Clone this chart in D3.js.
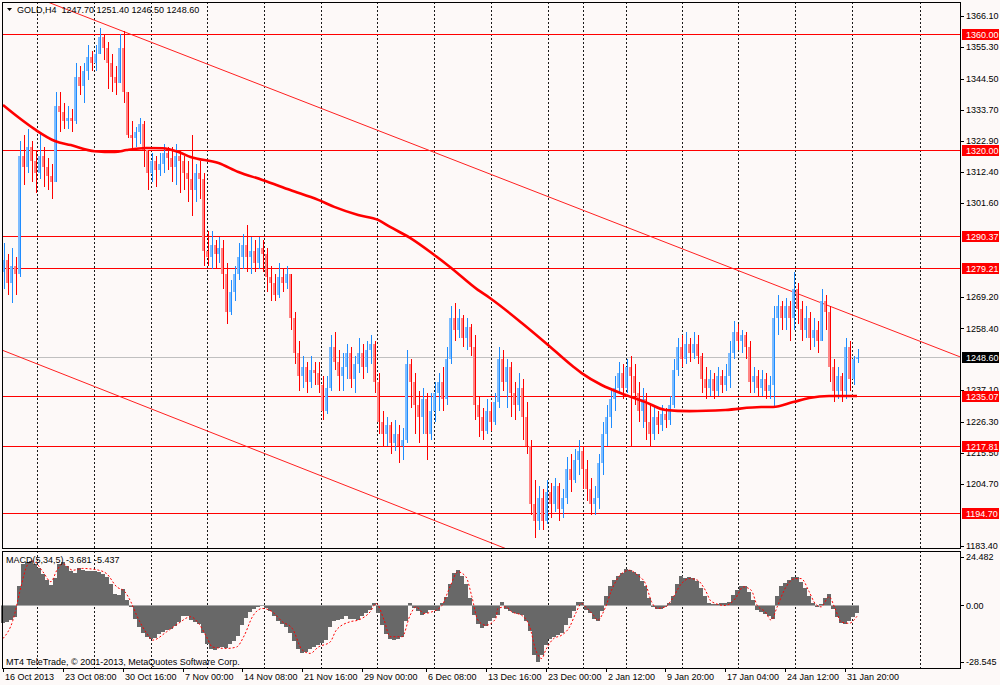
<!DOCTYPE html>
<html>
<head>
<meta charset="utf-8">
<script src="https://cdn.jsdelivr.net/npm/d3@7"></script>
<style>
  body { margin: 0; background: #fdf9f8; }
  svg { display: block; font-family: "Liberation Sans", Arial, sans-serif; font-size: 9px; }
</style>
</head>
<body>
<div id="container"></div>
<script>
// GOLD,H4 bars, one every 8 hours or so
const firstOpen = 1278;
const closes = [
  1282,1274,1280,1277,1318,1314,1321,1316,1312,1318,
  1314,1311,1309,1335,1333,1330,1331,1330,1345,1342,
  1347,1352,1350,1353,1359,1355,1350,1345,1343,1355,
  1340,1325,1324,1326,1329,1320,1312,1316,1313,1315,
  1319,1317,1314,1318,1316,1312,1310,1306,1312,1310,
  1285,1283,1287,1284,1286,1277,1264,1271,1277,1283,
  1287,1283,1285,1281,1286,1284,1276,1274,1270,1276,
  1274,1277,1262,1250,1242,1245,1240,1244,1243,1239,
  1230,1238,1252,1247,1242,1245,1250,1241,1246,1250,
  1245,1251,1253,1240,1226,1222,1225,1219,1222,1218,
  1220,1246,1240,1232,1228,1234,1222,1230,1236,1240,
  1234,1248,1262,1258,1262,1255,1259,1252,1232,1228,
  1223,1230,1226,1233,1248,1240,1245,1236,1232,1238,
  1228,1218,1198,1192,1200,1192,1202,1198,1204,1196,
  1200,1210,1206,1213,1216,1210,1203,1198,1200,1212,
  1222,1228,1234,1238,1243,1238,1245,1242,1236,1230,
  1234,1226,1222,1228,1225,1229,1227,1232,1244,1252,
  1248,1253,1250,1253,1249,1241,1238,1241,1237,1242,
  1239,1242,1250,1257,1254,1256,1252,1240,1242,1238,
  1241,1237,1239,1262,1266,1262,1266,1262,1272,1265,
  1258,1262,1255,1258,1254,1268,1264,1245,1237,1242,
  1237,1252,1241,1247.7,1248.6
];
const highs = [
  1288,1284,1286,1283,1323,1325,1327,1323,1320,1326,
  1321,1317,1315,1340,1340,1336,1335,1334,1350,1349,
  1350,1356,1354,1356,1362,1360,1357,1353,1349,1360,
  1361,1340,1330,1328,1331,1330,1320,1319,1318,1319,
  1322,1321,1321,1322,1320,1318,1316,1325,1315,1316,
  1312,1292,1292,1289,1290,1289,1281,1275,1280,1288,
  1291,1294,1290,1289,1290,1289,1286,1280,1277,1281,
  1279,1280,1277,1264,1254,1249,1247,1249,1247,1247,
  1242,1242,1256,1257,1251,1250,1253,1252,1249,1255,
  1253,1254,1256,1254,1243,1230,1228,1226,1227,1225,
  1224,1251,1248,1243,1237,1238,1236,1236,1240,1243,
  1245,1252,1266,1267,1265,1263,1262,1260,1256,1235,
  1231,1234,1233,1236,1252,1251,1248,1247,1240,1243,
  1241,1233,1220,1206,1204,1203,1206,1205,1207,1205,
  1203,1214,1215,1217,1220,1218,1213,1207,1204,1215,
  1226,1232,1238,1242,1247,1246,1248,1249,1246,1240,
  1238,1236,1232,1232,1230,1232,1231,1235,1248,1255,
  1256,1257,1255,1257,1256,1250,1245,1244,1243,1245,
  1244,1246,1254,1261,1260,1258,1257,1254,1245,1244,
  1244,1243,1242,1266,1270,1268,1269,1268,1278,1274,
  1268,1266,1264,1262,1261,1272,1270,1266,1248,1245,
  1243,1255,1254,1249,1251.4
];
const lows = [
  1272,1270,1267,1270,1276,1308,1312,1309,1305,1310,
  1307,1306,1303,1309,1326,1327,1327,1326,1329,1339,
  1336,1344,1347,1347,1353,1351,1341,1340,1339,1343,
  1336,1324,1320,1321,1322,1314,1306,1309,1307,1311,
  1312,1313,1309,1308,1305,1306,1302,1297,1302,1303,
  1280,1280,1279,1279,1281,1272,1260,1263,1268,1275,
  1279,1278,1277,1278,1279,1278,1271,1268,1268,1269,
  1271,1272,1258,1246,1237,1238,1236,1238,1239,1236,
  1227,1229,1237,1244,1237,1237,1241,1238,1236,1243,
  1241,1243,1246,1236,1222,1218,1218,1215,1216,1212,
  1213,1219,1231,1222,1219,1222,1213,1220,1226,1230,
  1230,1232,1246,1254,1255,1252,1251,1249,1227,1221,
  1220,1222,1223,1225,1231,1237,1231,1228,1227,1230,
  1220,1215,1194,1186,1189,1189,1191,1193,1195,1192,
  1193,1198,1202,1205,1208,1203,1199,1194,1194,1196,
  1208,1218,1224,1230,1236,1234,1236,1218,1232,1226,
  1224,1220,1218,1220,1222,1223,1224,1225,1231,1242,
  1245,1246,1247,1248,1246,1236,1234,1235,1234,1235,
  1236,1237,1238,1248,1251,1250,1248,1236,1236,1235,
  1235,1234,1234,1231,1256,1258,1258,1254,1258,1260,
  1254,1255,1251,1252,1250,1254,1258,1240,1233,1234,
  1233,1234,1237,1239,1246.5
];

// thick moving average, points read every few bars
const maBars   = [0,4,8,13,17,23,28,31,36,40,44,47,54,59,65,72,79,83,89,94,97,102,108,112,119,122,130,136,143,145,150,156,161,166,172,181,190,193,198,202,207,214];
const maValues = [1335.4,1331,1327,1323,1321.6,1319.5,1319.2,1319.9,1320.6,1320.5,1319.2,1317.5,1315.4,1312.3,1309.6,1306.1,1302.7,1300.3,1297.5,1295.8,1293.4,1289.6,1283.8,1279.6,1271.7,1268.9,1260.3,1253.4,1245.1,1243,1238.9,1235.5,1233,1230.3,1229.9,1230.3,1231.3,1231.3,1233,1234.4,1235.1,1235.1];

// horizontal levels and channel
const levels = [1360.00, 1320.00, 1290.37, 1279.21, 1235.07, 1217.81, 1194.70];
const lastPrice = 1248.60;
const upperChannel = [[12, 1370.5], [240, 1248.5]];
const lowerChannel = [[0, 1250.8], [126, 1182.5]];

// MACD(5,34,5) main value per bar
const macd = [
  -9,-8.5,-7.5,-6,10,21,22,22.5,21,19,
  16,13,10.5,14,21,22,20,17.5,16.5,19,
  18,17.5,17.5,17.5,17,16,14.5,11,6,5.5,
  8.5,3,-1,-7,-11,-14,-16,-16.7,-16.2,-14.5,
  -13.5,-12.5,-12,-10.5,-8.5,-5.2,-5.4,-7.5,-8.5,-9.5,
  -14,-19.5,-22,-22.5,-21.5,-21,-21.5,-19.5,-18,-15.5,
  -10,-6.5,-3.5,-2,-1,-0.5,-1.5,-3,-5.5,-8,
  -9.5,-10.8,-14,-18,-22,-24.2,-23.5,-22,-21,-20,
  -19,-17.5,-11,-8,-7.4,-6.8,-5.5,-6.6,-7,-7.2,
  -5.5,-4,-2.4,1,-4,-10,-14.5,-17,-17.5,-17,
  -16,-8,1.5,-1.5,-3,-5,-4,-2.4,-2.5,-3,
  1,4.5,11,16.5,18,15,11,4,-5,-9.5,
  -11.5,-10.5,-8,-6.5,-5,2,-2,-3,-4,-4.2,
  -5,-8,-13,-25,-28.4,-25,-20,-17,-16,-15,
  -14,-10,-6.5,-3,2,2,-2.5,-4,-7,-8,
  -3,5,10,13,15,16.5,18.5,18,17,16,
  12.5,10,4,-1,-2,-1.8,-1,1,5,11,
  15,14,14.2,14,12.5,9,5,1,0.5,0.5,
  1,1.5,2,5.5,8,10,10,7,3,-2.5,
  -3.5,-4.5,-5.5,-7,5,10,11.5,13,14.5,14.5,
  12,9,5,1,-1,0.5,4,6,-2,-6,
  -9,-9.5,-8,-6,-3.681
];
// signal line, read at these bar positions
const signalBars = [0,2.5,4.5,6,7.5,10,12,13.5,15,17.5,20,24,26,28.5,30.5,32,33.5,36,37.5,41,44,47,49,51,52.5,56,58.5,60.5,62.5,65,67.5,70,72.5,75,77,79,82,83.5,87,89,92,93.5,95.5,97,100,102,103.5,105.5,107.5,110,112,114,116,117.5,119,121,123.5,124,126,127.5,130,132,133.5,135,136,138,140,142,143.5,145,146,148,149,151,152.5,155,157,159,161,162.5,164,166,167.5,170,172,174,176,177.5,181,183.5,185.5,187.5,189,191,192.5,194,196,198.5,200,202,203.5,205,207,208.5,210,212,214];
const signalValues = [-16.7,-7.4,9.4,20,22.5,17,12,17.8,21,17.8,18.7,17.8,16,9.4,7,2,-5,-14,-17.5,-13.3,-9,-5.7,-9,-15.8,-21,-21.7,-21,-15,-5.7,-1.5,-3.2,-8.2,-11.6,-22.5,-24.2,-21,-18.4,-12.5,-8.2,-7.4,-3.2,1,-7.4,-15.8,-15.8,-5,-0.7,-4,-3.2,0,9.4,17,14.5,4.4,-7.4,-10,-6.6,-1.5,-0.7,-3.2,-5,-10.8,-22.5,-26.8,-22.5,-16.7,-15,-10.8,-4,1,-0.7,-5,-7.4,-0.7,7.7,16,17.8,15.3,11,2,-1.5,-0.7,2.7,11,13.6,12.8,7.7,2,0,3.5,9.4,7.7,0,-3.2,-7.4,-0.7,8.6,13.6,13.6,7,1,-0.7,4.4,-1.5,-8.2,-9,-5.437];

// visible price labels (the others sit under the level tags)
const priceTicks = [1366.10,1355.30,1344.50,1333.70,1322.90,1312.40,1301.60,1269.20,1258.40,1237.10,1226.30,1215.50,1204.70,1183.40];
const macdTicks = [24.482, 0, -28.545];
const xLabels = ["16 Oct 2013","23 Oct 08:00","30 Oct 16:00","7 Nov 00:00","14 Nov 08:00","21 Nov 16:00","29 Nov 00:00","6 Dec 08:00","13 Dec 16:00","23 Dec 00:00","2 Jan 12:00","9 Jan 20:00","17 Jan 04:00","24 Jan 12:00","31 Jan 20:00"];
const xLabelBars = [0,15,30,45,60,75,90,106,121,136,151,166,181,196,211];
const gridBars = [8.5,22.8,37.1,51.1,65.4,79.7,93.7,108,122.3,136.6,145.4,156.1,170.2,184.2,198.5,212.8,229.8];
const ohlc = ["1247.70", "1251.40", "1246.50", "1248.60"];

const width = 1000, height = 685;
const main = {left: 2, right: 960, top: 2, bottom: 548};
const sub = {left: 2, right: 960, top: 551, bottom: 668};

const svg = d3.select("#container").append("svg")
              .attr("width", width).attr("height", height);
svg.append("rect").attr("width", width).attr("height", height).attr("fill", "#fdf9f8");

const x = d3.scaleLinear().domain([0, closes.length - 1]).range([3, 857]);
const y = d3.scaleLinear().domain([1183.4, 1366.1]).range([546, 16]);
const ym = d3.scaleLinear().domain([-28.545, 24.482]).range([662, 557]);

svg.append("clipPath").attr("id", "clipMain")
   .append("rect").attr("x", main.left).attr("y", main.top)
   .attr("width", main.right - main.left).attr("height", main.bottom - main.top);

// grid
[main, sub].forEach(p => {
  svg.append("g").selectAll("line").data(gridBars).enter().append("line")
     .attr("x1", d => Math.round(x(d)) + 0.5).attr("x2", d => Math.round(x(d)) + 0.5)
     .attr("y1", p.top).attr("y2", p.bottom)
     .attr("stroke", "#1a1a1a").attr("stroke-dasharray", "2,2");
});

const plot = svg.append("g").attr("clip-path", "url(#clipMain)");

// levels
plot.selectAll(".level").data(levels).enter().append("line")
    .attr("x1", main.left).attr("x2", main.right)
    .attr("y1", d => Math.round(y(d)) + 0.5).attr("y2", d => Math.round(y(d)) + 0.5)
    .attr("stroke", "#ff0000");
plot.append("line")
    .attr("x1", main.left).attr("x2", main.right)
    .attr("y1", Math.round(y(lastPrice)) + 0.5).attr("y2", Math.round(y(lastPrice)) + 0.5)
    .attr("stroke", "#c0c0c0");

// channel lines, extended past their anchors
const extend = (pts) => {
  const s = (pts[1][1] - pts[0][1]) / (pts[1][0] - pts[0][0]);
  const a = x.invert(main.left), b = x.invert(main.right);
  return [[a, pts[0][1] + s * (a - pts[0][0])], [b, pts[0][1] + s * (b - pts[0][0])]];
};
[upperChannel, lowerChannel].forEach(ch => {
  plot.append("path")
      .attr("d", d3.line().x(d => x(d[0])).y(d => y(d[1]))(extend(ch)))
      .attr("fill", "none").attr("stroke", "#ff2020").attr("stroke-width", 1);
});

// bars
const bars = closes.map((c, i) => ({i: i, o: i ? closes[i - 1] : firstOpen, h: highs[i], l: lows[i], c: c}));
const candle = plot.append("g").attr("shape-rendering", "crispEdges");
candle.selectAll(".body").data(bars).enter().append("rect")
      .attr("x", d => Math.round(x(d.i)) - 1)
      .attr("width", 2)
      .attr("y", d => y(Math.max(d.o, d.c)))
      .attr("height", d => Math.max(1, y(Math.min(d.o, d.c)) - y(Math.max(d.o, d.c))))
      .attr("fill", d => d.c >= d.o ? "#7dbcff" : "#ff8585");
candle.selectAll(".wick").data(bars).enter().append("line")
      .attr("x1", d => Math.round(x(d.i)) + 1.5).attr("x2", d => Math.round(x(d.i)) + 1.5)
      .attr("y1", d => y(d.h)).attr("y2", d => y(d.l))
      .attr("stroke", d => d.c >= d.o ? "#1e8cff" : "#ff0000");

// moving average
plot.append("path")
    .attr("d", d3.line().x((d, i) => x(maBars[i])).y(d => y(d)).curve(d3.curveMonotoneX)(maValues))
    .attr("fill", "none").attr("stroke", "#ff0000").attr("stroke-width", 2.6);

// MACD histogram
const hist = svg.append("g").attr("shape-rendering", "crispEdges");
hist.selectAll("rect").data(macd).enter().append("rect")
    .attr("x", (d, i) => Math.round(x(i)) - 2)
    .attr("width", 4)
    .attr("y", d => ym(Math.max(d, 0)))
    .attr("height", d => Math.abs(ym(d) - ym(0)))
    .attr("fill", "#686868");
svg.append("line")
   .attr("x1", Math.round(x(0)) - 2).attr("x2", Math.round(x(macd.length - 1)) + 2)
   .attr("y1", Math.round(ym(0)) + 0.5).attr("y2", Math.round(ym(0)) + 0.5)
   .attr("stroke", "#a8a8a8");
svg.append("path")
   .attr("d", d3.line().x((d, i) => x(signalBars[i])).y(d => ym(d)).curve(d3.curveMonotoneX)(signalValues))
   .attr("fill", "none").attr("stroke", "#ff0000").attr("stroke-width", 1)
   .attr("stroke-dasharray", "2,2");

// panel frames
[main, sub].forEach(p => {
  svg.append("rect").attr("x", p.left + 0.5).attr("y", p.top + 0.5)
     .attr("width", p.right - p.left).attr("height", p.bottom - p.top)
     .attr("fill", "none").attr("stroke", "#000");
});

// price axis
const pAxis = svg.append("g");
pAxis.selectAll("line").data(priceTicks).enter().append("line")
     .attr("x1", main.right + 1).attr("x2", main.right + 4)
     .attr("y1", d => Math.round(y(d)) + 0.5).attr("y2", d => Math.round(y(d)) + 0.5)
     .attr("stroke", "#000");
pAxis.selectAll("text").data(priceTicks).enter().append("text")
     .attr("x", 966).attr("y", d => y(d)).attr("dy", "0.35em")
     .text(d => d.toFixed(2));

const tags = levels.map(v => ({v: v, fill: "#ff0000"})).concat([{v: lastPrice, fill: "#000"}]);
const tag = svg.append("g").selectAll("g").data(tags).enter().append("g");
tag.append("rect").attr("x", 962).attr("width", 37)
   .attr("y", d => Math.round(y(d.v)) - 5).attr("height", 11)
   .attr("fill", d => d.fill);
tag.append("text").attr("x", 966).attr("y", d => Math.round(y(d.v)) + 0.5).attr("dy", "0.35em")
   .attr("fill", "#fff").text(d => d.v.toFixed(2));

// MACD axis
const mAxis = svg.append("g");
mAxis.selectAll("line").data(macdTicks).enter().append("line")
     .attr("x1", sub.right + 1).attr("x2", sub.right + 4)
     .attr("y1", d => Math.round(ym(d)) + 0.5).attr("y2", d => Math.round(ym(d)) + 0.5)
     .attr("stroke", "#000");
mAxis.selectAll("text").data(macdTicks).enter().append("text")
     .attr("x", 966).attr("y", d => ym(d)).attr("dy", "0.35em")
     .text(d => d === 0 ? "0.00" : d.toFixed(3));

// time axis
const tAxis = svg.append("g");
tAxis.selectAll("line").data(xLabelBars).enter().append("line")
     .attr("x1", d => Math.round(x(d)) + 0.5).attr("x2", d => Math.round(x(d)) + 0.5)
     .attr("y1", sub.bottom).attr("y2", sub.bottom + 4)
     .attr("stroke", "#000");
tAxis.selectAll("text").data(xLabels).enter().append("text")
     .attr("x", (d, i) => Math.round(x(xLabelBars[i])) + 2).attr("y", 680)
     .text(d => d);

// captions
svg.append("path").attr("d", "M7,8L12,8L9.5,11Z").attr("fill", "#000");
svg.append("text").attr("x", 17).attr("y", 13).style("white-space", "pre")
   .text("GOLD,H4  " + ohlc.join(" "));
svg.append("text").attr("x", 6).attr("y", 563).style("white-space", "pre")
   .text("MACD(5,34,5) " + macd[macd.length - 1].toFixed(3) + " " + signalValues[signalValues.length - 1].toFixed(3));
svg.append("text").attr("x", 6).attr("y", 665)
   .text("MT4 TeleTrade, \u00a9 2001-2013, MetaQuotes Software Corp.");
</script>
</body>
</html>
